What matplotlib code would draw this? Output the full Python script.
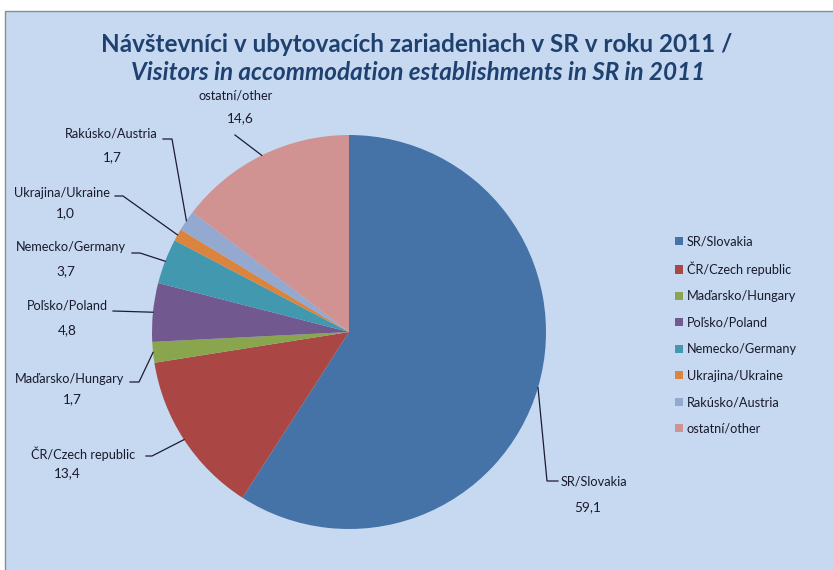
import matplotlib.pyplot as plt
import numpy as np
from matplotlib.patches import Rectangle

# data
kategorie = ["SR/Slovakia", "ČR/Czech republic", "Maďarsko/Hungary", "Poľsko/Poland",
             "Nemecko/Germany", "Ukrajina/Ukraine", "Rakúsko/Austria", "ostatní/other"]
hodnoty = [59.1, 13.4, 1.7, 4.8, 3.7, 1.0, 1.7, 14.6]
farby = ["#4572A7", "#AA4643", "#89A54E", "#71588F", "#4198AF", "#DB843D", "#93A9CF", "#D19392"]

# label layout in pixels (name center, value center, leader elbow points)
pozicie_nazov = [(594, 482), (83, 454), (70, 379), (67, 306), (71, 247), (62, 193), (111, 134), (236, 95)]
pozicie_hodnota = [(588, 507), (67, 473), (72, 399), (67, 330), (66, 271), (65, 213), (112, 157), (240, 118)]
ohyby = [[(558, 481), (547, 481)], [(146, 456), (152, 456)], [(130, 382), (139, 382)],
         [(113, 311)], [(132, 253), (140, 253)], [(115, 196), (123, 196)],
         [(163, 139), (172, 139)], [(235, 135)]]

W, H = 833, 570
plt.rcParams['font.family'] = ['Lato', 'DejaVu Sans']

fig = plt.figure(figsize=(W / 100, H / 100), dpi=100)
ax = fig.add_axes([0, 0, 1, 1])

def py(y):
    return H - y

# chart area background
ax.add_patch(Rectangle((5, -5), W, py(11) + 5, facecolor="#C6D9F1", edgecolor="#8C8C8C", lw=1, zorder=0))

cx, cy, r = 349, py(332), 197
wedges, _ = ax.pie(hodnoty, colors=farby, startangle=90, counterclock=False,
                   center=(cx, cy), radius=r, wedgeprops=dict(linewidth=0))

txt_col = "#1A1A2C"
for i, w in enumerate(wedges):
    mid = np.deg2rad((w.theta1 + w.theta2) / 2)
    pts = [(x, py(y)) for x, y in ohyby[i]] + [(cx + r * np.cos(mid), cy + r * np.sin(mid))]
    xs, ys = zip(*pts)
    ax.plot(xs, ys, color="#1C1C30", lw=0.9, zorder=3)
    nx, ny = pozicie_nazov[i]
    vx, vy = pozicie_hodnota[i]
    ax.text(nx, py(ny), kategorie[i], ha="center", va="center", fontsize=9.2, color=txt_col)
    ax.text(vx, py(vy), f"{hodnoty[i]:.1f}".replace(".", ","), ha="center", va="center",
            fontsize=9.8, color=txt_col)

ax.set_xlim(0, W)
ax.set_ylim(0, H)
ax.axis("off")

leg = ax.legend(wedges, kategorie, loc="upper left", bbox_to_anchor=(670 / W, 1 - 230 / H),
                frameon=False, fontsize=9.2, handlelength=0.6, handleheight=0.6,
                handletextpad=0.3, labelspacing=1.13, borderaxespad=0)
for t in leg.get_texts():
    t.set_color(txt_col)

fig.text(417 / W, 1 - 44 / H, "Návštevníci v ubytovacích zariadeniach v SR v roku 2011 /",
         ha="center", va="center", fontsize=17.5, fontweight="bold", color="#1F4170")
fig.text(418 / W, 1 - 73 / H, "Visitors in accommodation establishments in SR in 2011",
         ha="center", va="center", fontsize=17.5, fontweight="bold", fontstyle="italic", color="#1F4170")

fig.savefig("out.png", dpi=100, facecolor="white")
